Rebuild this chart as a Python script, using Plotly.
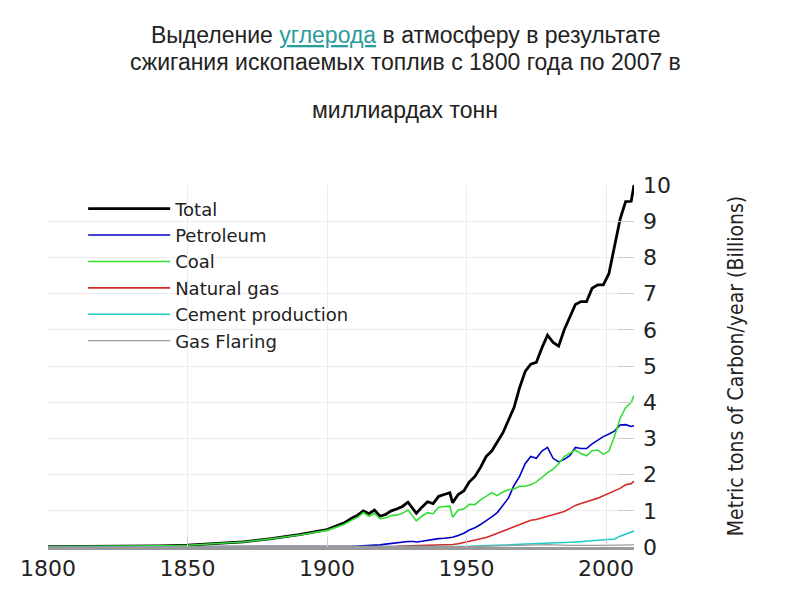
import plotly.graph_objects as go

# годы (общая ось для всех рядов)
years = [1800, 1810, 1820, 1830, 1840, 1850, 1860, 1870, 1880, 1890,
         1900, 1903, 1906, 1909, 1911, 1913, 1915, 1917, 1919, 1921,
         1923, 1925, 1927, 1929, 1931, 1932, 1934, 1936, 1938, 1940,
         1942, 1944, 1945, 1947, 1949, 1951, 1953, 1955, 1957, 1959,
         1961, 1963, 1965, 1967, 1969, 1971, 1973, 1975, 1977, 1979,
         1981, 1983, 1985, 1987, 1989, 1991, 1993, 1995, 1997, 1999,
         2001, 2003, 2005, 2007, 2009, 2010]

total = [0.01, 0.01, 0.015, 0.02, 0.03, 0.05, 0.09, 0.14, 0.23, 0.34,
         0.48, 0.56, 0.66, 0.80, 0.88, 1.00, 0.92, 1.02, 0.85, 0.90,
         1.00, 1.05, 1.12, 1.24, 1.05, 0.93, 1.10, 1.25, 1.20, 1.40,
         1.45, 1.50, 1.22, 1.45, 1.55, 1.80, 1.95, 2.20, 2.50, 2.65,
         2.90, 3.15, 3.50, 3.85, 4.40, 4.85, 5.05, 5.10, 5.50, 5.85,
         5.65, 5.55, 6.00, 6.35, 6.70, 6.78, 6.78, 7.15, 7.24, 7.24,
         7.55, 8.30, 9.05, 9.54, 9.55, 10.0]

petroleum = [0, 0, 0, 0, 0, 0, 0, 0, 0, 0.002,
             0.005, 0.01, 0.015, 0.02, 0.025, 0.03, 0.04, 0.05, 0.06, 0.08,
             0.10, 0.11, 0.13, 0.15, 0.15, 0.14, 0.16, 0.19, 0.20, 0.23,
             0.24, 0.26, 0.27, 0.32, 0.38, 0.47, 0.53, 0.62, 0.72, 0.83,
             0.95, 1.15, 1.35, 1.70, 1.95, 2.30, 2.50, 2.45, 2.65, 2.75,
             2.45, 2.35, 2.42, 2.52, 2.75, 2.72, 2.72, 2.85, 2.95, 3.05,
             3.12, 3.20, 3.37, 3.38, 3.33, 3.35]

coal = [0.01, 0.01, 0.015, 0.02, 0.03, 0.05, 0.09, 0.14, 0.23, 0.33,
        0.46, 0.54, 0.62, 0.75, 0.82, 0.95, 0.85, 0.93, 0.78, 0.80,
        0.87, 0.88, 0.93, 1.02, 0.82, 0.72, 0.85, 0.95, 0.92, 1.10,
        1.12, 1.13, 0.82, 1.02, 1.05, 1.18, 1.17, 1.30, 1.40, 1.50,
        1.42, 1.52, 1.58, 1.60, 1.68, 1.68, 1.72, 1.80, 1.92, 2.05,
        2.15, 2.30, 2.50, 2.60, 2.68, 2.58, 2.52, 2.66, 2.68, 2.56,
        2.65, 3.05, 3.55, 3.85, 4.00, 4.18]

natural_gas = [0, 0, 0, 0, 0, 0, 0, 0, 0, 0,
               0.005, 0.01, 0.01, 0.01, 0.01, 0.01, 0.01, 0.01, 0.01, 0.015,
               0.015, 0.02, 0.025, 0.03, 0.03, 0.03, 0.035, 0.04, 0.045, 0.05,
               0.055, 0.065, 0.07, 0.09, 0.12, 0.16, 0.19, 0.22, 0.26, 0.32,
               0.38, 0.44, 0.50, 0.56, 0.63, 0.68, 0.74, 0.76, 0.80, 0.86,
               0.88, 0.92, 0.98, 1.06, 1.15, 1.20, 1.24, 1.30, 1.35, 1.42,
               1.48, 1.55, 1.62, 1.72, 1.75, 1.82]

cement = [0, 0, 0, 0, 0, 0, 0, 0, 0, 0,
          0, 0, 0, 0, 0, 0, 0, 0, 0, 0.005,
          0.005, 0.005, 0.01, 0.01, 0.01, 0.01, 0.01, 0.01, 0.012, 0.015,
          0.015, 0.015, 0.012, 0.015, 0.018, 0.02, 0.025, 0.03, 0.035, 0.04,
          0.045, 0.05, 0.055, 0.06, 0.07, 0.08, 0.09, 0.095, 0.10, 0.11,
          0.115, 0.12, 0.125, 0.13, 0.14, 0.15, 0.16, 0.17, 0.175, 0.18,
          0.19, 0.22, 0.30, 0.36, 0.40, 0.44]

gas_flaring = [0, 0, 0, 0, 0, 0, 0, 0, 0, 0,
               0, 0, 0, 0, 0, 0, 0, 0, 0, 0,
               0, 0, 0, 0, 0, 0, 0, 0, 0, 0,
               0, 0, 0, 0.005, 0.01, 0.01, 0.015, 0.02, 0.025, 0.03,
               0.03, 0.035, 0.04, 0.05, 0.055, 0.06, 0.065, 0.07, 0.07, 0.065,
               0.06, 0.05, 0.045, 0.045, 0.045, 0.04, 0.04, 0.045, 0.045, 0.045,
               0.05, 0.05, 0.055, 0.06, 0.06, 0.06]

series = [
    ("Total", total, "#000000", 2.8),
    ("Petroleum", petroleum, "#0000c8", 1.6),
    ("Coal", coal, "#33dd33", 1.6),
    ("Natural gas", natural_gas, "#d42a2a", 1.6),
    ("Cement production", cement, "#20c8c8", 1.6),
    ("Gas Flaring", gas_flaring, "#9a9a9a", 1.2),
]

fig = go.Figure()
for name, vals, color, w in series:
    fig.add_trace(go.Scatter(x=years, y=vals, mode="lines", name=name,
                             line=dict(color=color, width=w)))

tick_font = dict(family="DejaVu Sans", size=22, color="#222")

fig.update_xaxes(
    range=[1800, 2010],
    tickvals=[1800, 1850, 1900, 1950, 2000],
    showgrid=True, gridcolor="#ececec", gridwidth=1,
    showline=True, linecolor="#9a9a9a", linewidth=3,
    ticks="inside", ticklen=10, tickcolor="#cccccc",
    zeroline=False, tickfont=tick_font,
)
fig.update_yaxes(
    range=[0, 10], dtick=1, side="right",
    showgrid=True, gridcolor="#ececec", gridwidth=1,
    ticks="inside", ticklen=16, tickcolor="#cccccc",
    ticklabelstandoff=8,
    zeroline=False, tickfont=tick_font,
    title=dict(text="Metric tons of Carbon/year (Billions)",
               font=dict(family="Liberation Sans Narrow, DejaVu Sans Condensed", size=21, color="#222"),
               standoff=58),
)

# заголовок в три строки
title_font = dict(family="Liberation Sans, Arial", size=23, color="#222")
title_lines = [
    ("Выделение <span style='color:#2a9c9c;text-decoration:underline'>углерода</span>"
     " в атмосферу в результате", 1.414),
    ("сжигания ископаемых топлив с 1800 года по 2007 в", 1.340),
    ("миллиардах тонн", 1.207),
]
for txt, yy in title_lines:
    fig.add_annotation(text=txt, x=0.61, y=yy, xref="paper", yref="paper",
                       showarrow=False, font=title_font,
                       xanchor="center", yanchor="middle")

fig.update_layout(
    width=800, height=600,
    margin=dict(l=32, r=174, t=177, b=61),
    plot_bgcolor="white", paper_bgcolor="white",
    showlegend=True,
    legend=dict(x=0.06, y=0.985, xanchor="left", yanchor="top",
                bgcolor="rgba(0,0,0,0)", itemwidth=82,
                font=dict(family="DejaVu Sans", size=18, color="#222"),
                tracegroupgap=0),
)

fig.write_html("out.html")
